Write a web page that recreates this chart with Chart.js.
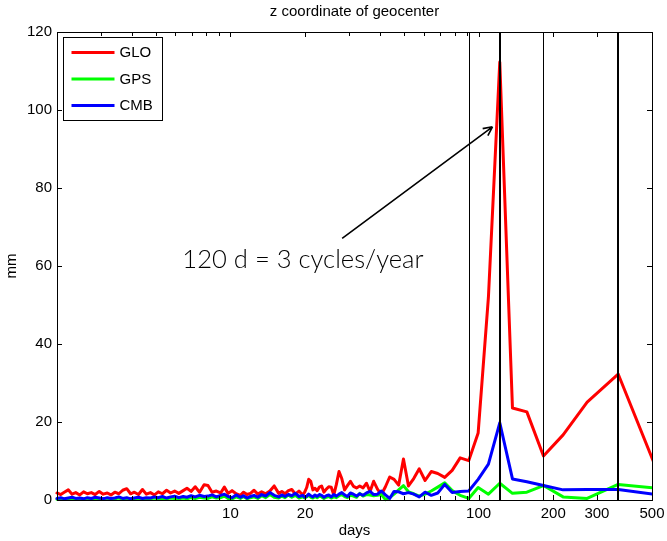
<!DOCTYPE html>
<html>
<head>
<meta charset="utf-8">
<script src="https://cdn.jsdelivr.net/npm/chart.js@4/dist/chart.umd.min.js"></script>
<style>
    html, body { margin: 0; padding: 0; background: #FFFFFF; }
    #wrap { width: 667px; height: 541px; }
</style>
</head>
<body>
<div id="wrap"><canvas id="geocenterChart" width="667" height="541"></canvas></div>
<script>
const FONT = "'Liberation Sans', Arial, Helvetica, sans-serif";
const ANNOT_FONT = "Lato, 'Open Sans', sans-serif";

// periods in days (3-year series, 1095.75 / k), dense short-period part thinned
const periods = [
    2.00, 2.07, 2.14, 2.22, 2.30, 2.38, 2.47, 2.56, 2.65, 2.75,
    2.85, 2.96, 3.07, 3.19, 3.30, 3.42, 3.55, 3.68, 3.82, 3.96,
    4.10, 4.26, 4.42, 4.58, 4.76, 4.94, 5.12, 5.32, 5.53, 5.74,
    5.96, 6.19, 6.45, 6.68, 6.94, 7.21, 7.51, 7.83, 8.12, 8.43,
    8.77, 9.13, 9.45, 9.78, 10.15, 10.54, 10.96, 11.30, 11.66, 12.04,
    12.45, 12.89, 13.36, 13.87, 14.42, 15.01, 15.65, 16.11, 16.60, 17.12,
    17.67, 18.26, 18.89, 19.57,
    19.92, 20.29, 20.67, 21.07, 21.49, 21.92, 22.36, 22.83, 23.31, 23.82,
    24.35, 24.90, 25.48, 26.09, 26.73, 27.39, 28.10, 28.84, 29.61, 30.44,
    31.31, 32.23, 33.20, 34.24, 35.35, 36.53, 37.78, 39.13, 40.58, 42.14,
    43.83, 45.66, 47.64, 49.81, 52.18, 54.79, 57.67, 60.88, 64.46, 68.48,
    73.05, 78.27, 84.29, 91.31, 99.61, 109.58, 121.75, 136.97, 156.54, 182.63,
    219.15, 273.94, 365.25, 547.88
];

// amplitudes in mm
const glo = [
    1.8, 1.4, 2.0, 2.6, 1.5, 1.9, 1.3, 2.1, 1.6, 1.9,
    1.4, 2.2, 1.5, 1.8, 1.3, 2.0, 1.6, 2.5, 2.9, 1.6,
    2.0, 1.4, 2.7, 1.5, 1.9, 1.3, 2.1, 1.6, 2.5, 1.8,
    2.3, 1.7, 2.4, 3.0, 2.2, 3.4, 2.0, 3.9, 3.7, 2.0,
    2.3, 1.8, 3.3, 1.7, 2.4, 1.6, 1.2, 2.0, 1.4, 1.7,
    2.5, 1.5, 2.1, 1.6, 2.3, 3.6, 1.7, 2.2, 1.6, 2.4,
    2.7, 1.5, 2.3, 1.3,
    2.0, 3.2, 5.3, 4.8, 2.6, 3.0, 2.4, 3.3, 3.6, 2.0,
    2.8, 3.4, 3.3, 1.3, 4.0, 7.3, 5.5, 2.6, 3.7, 4.8,
    3.5, 3.1, 3.6, 3.1, 4.3, 2.2, 4.8, 2.8, 1.4, 3.4,
    5.9, 5.3, 3.8, 10.5, 3.6, 5.5, 8.0, 5.0, 7.3, 6.8,
    5.8, 7.6, 10.8, 10.1, 17.2, 52.0, 112.3, 23.6, 22.6, 11.3,
    16.7, 25.1, 32.3, 4.5
];
const gps = [
    0.2, 0.3, 0.2, 0.4, 0.3, 0.2, 0.3, 0.2, 0.4, 0.2,
    0.3, 0.2, 0.3, 0.4, 0.2, 0.3, 0.5, 0.2, 0.3, 0.2,
    0.3, 0.4, 0.2, 0.3, 0.3, 0.5, 0.3, 0.4, 0.3, 0.5,
    0.4, 0.3, 0.5, 0.3, 0.6, 0.4, 0.7, 0.5, 0.4, 0.8,
    0.5, 0.6, 1.0, 0.4, 0.3, 0.8, 0.4, 0.9, 0.3, 0.6,
    0.8, 0.4, 1.1, 0.6, 1.4, 0.7, 0.5, 1.0, 0.6, 1.3,
    0.7, 1.2, 0.5, 0.8,
    0.5, 0.8, 1.2, 0.7, 0.5, 0.9, 0.6, 1.0, 0.8, 0.4,
    0.7, 0.9, 0.5, 0.8, 0.6, 1.1, 1.4, 0.9, 0.6, 1.2,
    1.0, 0.7, 1.7, 1.0, 1.4, 1.3, 1.1, 1.2, 1.4, 0.1,
    0.6, 1.5, 2.6, 3.7, 2.1, 1.6, 1.0, 1.5, 2.3, 3.3,
    4.4, 2.4, 1.2, 0.4, 3.2, 1.5, 4.3, 1.7, 2.0, 3.7,
    0.8, 0.4, 4.0, 2.9
];
const cmb = [
    0.4, 0.6, 0.3, 0.5, 0.7, 0.4, 0.5, 0.3, 0.6, 0.4,
    0.7, 0.5, 0.3, 0.6, 0.4, 0.5, 0.8, 0.4, 0.6, 0.3,
    0.5, 0.7, 0.4, 0.6, 0.5, 0.8, 0.6, 0.9, 0.5, 0.8,
    1.0, 0.6, 0.9, 0.7, 1.1, 0.8, 1.2, 0.9, 1.0, 1.3,
    0.8, 1.2, 1.5, 0.9, 0.6, 1.3, 0.7, 1.1, 0.5, 0.9,
    1.2, 0.7, 1.4, 1.0, 1.9, 1.2, 0.8, 1.3, 0.9, 1.4,
    1.1, 1.7, 0.9, 1.2,
    0.7, 1.0, 1.5, 1.1, 0.8, 1.3, 0.9, 1.4, 1.2, 0.7,
    1.1, 1.3, 0.8, 1.4, 1.0, 1.5, 1.9, 1.3, 0.9, 1.8,
    1.5, 1.0, 1.6, 1.2, 1.8, 2.2, 1.4, 1.5, 2.3, 1.3,
    0.4, 2.2, 2.1, 1.6, 1.9, 1.5, 0.8, 2.0, 1.2, 1.8,
    4.0, 1.9, 2.2, 2.3, 5.3, 9.2, 19.8, 5.4, 4.7, 3.7,
    2.6, 2.7, 2.7, 1.2
];

const X_TICKS = [2, 3, 4, 5, 6, 7, 8, 9, 10, 20, 30, 40, 50, 60, 70, 80, 90, 100, 200, 300, 500];
const X_LABELS = [10, 20, 100, 200, 300, 500];
const Y_TICKS = [0, 20, 40, 60, 80, 100, 120];

// 4, 3, 2 and 1 cycles per year
const REF_PERIODS = [91.31, 121.75, 182.63, 365.25];
const REF_WIDTHS = [1, 2, 1, 2];

const ANNOT_TEXT = '120 d = 3 cycles/year';
const ANNOT_AT = [6.4, 59.5];
const ARROW_FROM = [28.2, 67.1];
const ARROW_TO = [113.8, 95.7];

const series = [
    { label: 'GLO', values: glo, color: '#FF0000' },
    { label: 'GPS', values: gps, color: '#00FF00' },
    { label: 'CMB', values: cmb, color: '#0000FF' }
];

const matlabFrame = {
    id: 'matlabFrame',
    afterDatasetsDraw(chart) {
        const { ctx, chartArea: a, scales: { x, y } } = chart;
        ctx.save();
        ctx.strokeStyle = '#000000';

        // reference lines, snapped to the pixel grid
        REF_PERIODS.forEach((p, i) => {
            const wd = REF_WIDTHS[i];
            const px = Math.round(x.getPixelForValue(p)) + (wd % 2 ? 0.5 : 0);
            ctx.lineWidth = wd;
            ctx.beginPath();
            ctx.moveTo(px, a.top);
            ctx.lineTo(px, a.bottom);
            ctx.stroke();
        });

        // inward ticks on all four sides
        ctx.lineWidth = 1;
        ctx.beginPath();
        X_TICKS.forEach(v => {
            const px = Math.round(x.getPixelForValue(v)) + 0.5;
            const len = X_LABELS.includes(v) ? 5 : 4;
            ctx.moveTo(px, a.bottom); ctx.lineTo(px, a.bottom - len);
            ctx.moveTo(px, a.top); ctx.lineTo(px, a.top + len);
        });
        Y_TICKS.forEach(v => {
            const py = Math.round(y.getPixelForValue(v)) + 0.5;
            ctx.moveTo(a.left, py); ctx.lineTo(a.left + 5, py);
            ctx.moveTo(a.right, py); ctx.lineTo(a.right - 5, py);
        });
        ctx.stroke();
        ctx.strokeRect(Math.round(a.left) + 0.5, Math.round(a.top) + 0.5, Math.round(a.width), Math.round(a.height));

        // title
        ctx.fillStyle = '#000000';
        ctx.font = '15px ' + FONT;
        ctx.textAlign = 'center';
        ctx.textBaseline = 'middle';
        ctx.fillText('z coordinate of geocenter', (a.left + a.right) / 2, 12);

        // annotation and arrow
        const x0 = x.getPixelForValue(ARROW_FROM[0]), y0 = y.getPixelForValue(ARROW_FROM[1]);
        const x1 = x.getPixelForValue(ARROW_TO[0]), y1 = y.getPixelForValue(ARROW_TO[1]);
        ctx.lineWidth = 1.6;
        ctx.beginPath();
        ctx.moveTo(x0, y0);
        ctx.lineTo(x1, y1);
        const ang = Math.atan2(y1 - y0, x1 - x0);
        [-0.45, 0.45].forEach(d => {
            ctx.moveTo(x1, y1);
            ctx.lineTo(x1 - 10 * Math.cos(ang + d), y1 - 10 * Math.sin(ang + d));
        });
        ctx.stroke();

        ctx.font = '300 25px ' + ANNOT_FONT;
        const w = ctx.measureText(ANNOT_TEXT).width;
        const size = 25 * 241 / w;
        ctx.font = '300 ' + size.toFixed(1) + 'px ' + ANNOT_FONT;
        ctx.textAlign = 'left';
        ctx.textBaseline = 'alphabetic';
        ctx.fillText(ANNOT_TEXT, x.getPixelForValue(ANNOT_AT[0]), y.getPixelForValue(ANNOT_AT[1]));

        // legend box
        const bx = Math.round(a.left) + 6.5, by = Math.round(a.top) + 5.5;
        ctx.fillStyle = '#FFFFFF';
        ctx.fillRect(bx, by, 99, 83);
        ctx.lineWidth = 1;
        ctx.strokeRect(bx, by, 99, 83);
        ctx.font = '15px ' + FONT;
        ctx.textBaseline = 'middle';
        series.forEach((s, i) => {
            const ly = by + 15 + i * 26.5;
            ctx.strokeStyle = s.color;
            ctx.lineWidth = 3;
            ctx.beginPath();
            ctx.moveTo(bx + 8, ly);
            ctx.lineTo(bx + 51, ly);
            ctx.stroke();
            ctx.fillStyle = '#000000';
            ctx.fillText(s.label, bx + 56, ly + 0.5);
        });
        ctx.restore();
    }
};

new Chart(document.getElementById('geocenterChart'), {
    type: 'line',
    data: {
        datasets: series.map((s, i) => ({
            label: s.label,
            data: periods.map((p, j) => ({ x: p, y: s.values[j] })),
            borderColor: s.color,
            backgroundColor: s.color,
            borderWidth: 3,
            borderJoinStyle: 'round',
            borderCapStyle: 'round',
            pointRadius: 0,
            tension: 0,
            order: 2 - i,
            clip: { left: 3, top: 3, right: 0, bottom: 3 }
        }))
    },
    options: {
        responsive: false,
        animation: false,
        events: [],
        layout: { padding: { top: 32, right: 15, bottom: 0, left: 0 } },
        scales: {
            x: {
                type: 'logarithmic',
                min: 2,
                max: 500,
                grid: { display: false, drawTicks: false },
                border: { display: false },
                afterBuildTicks: s => { s.ticks = X_TICKS.map(v => ({ value: v })); },
                afterFit: s => { s.height = 41; s.paddingLeft = 0; s.paddingRight = 0; },
                ticks: {
                    color: '#000000',
                    font: { family: FONT, size: 15 },
                    padding: 5,
                    autoSkip: false,
                    maxRotation: 0,
                    callback: v => X_LABELS.includes(v) ? String(v) : ''
                },
                title: {
                    display: true,
                    text: 'days',
                    color: '#000000',
                    font: { family: FONT, size: 15 },
                    padding: { top: 0, bottom: 1 }
                }
            },
            y: {
                min: 0,
                max: 120,
                grid: { display: false, drawTicks: false },
                border: { display: false },
                afterBuildTicks: s => { s.ticks = Y_TICKS.map(v => ({ value: v })); },
                afterFit: s => { s.width = 57; s.paddingTop = 0; s.paddingBottom = 0; },
                ticks: {
                    color: '#000000',
                    font: { family: FONT, size: 15 },
                    padding: 5
                },
                title: {
                    display: true,
                    text: 'mm',
                    color: '#000000',
                    font: { family: FONT, size: 15 },
                    padding: { top: 3, bottom: 0 }
                }
            }
        },
        plugins: {
            legend: { display: false },
            title: { display: false },
            tooltip: { enabled: false }
        }
    },
    plugins: [matlabFrame]
});
</script>
</body>
</html>
